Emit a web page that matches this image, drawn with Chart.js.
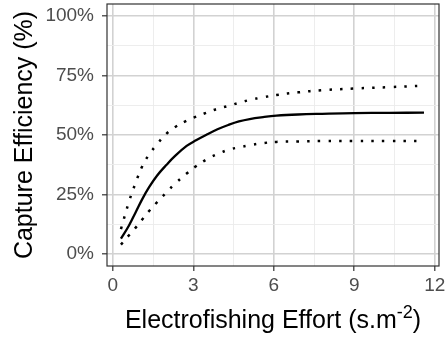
<!DOCTYPE html>
<html>
<head>
<meta charset="utf-8">
<script src="https://cdn.jsdelivr.net/npm/chart.js@4"></script>
<style>
  html, body { margin: 0; padding: 0; background: #fff; }
  #wrap { width: 446px; height: 339px; }
</style>
</head>
<body>
<div id="wrap"><canvas id="myChart" width="446" height="339"></canvas></div>
<script>
// values
const effort = [0.3, 0.6, 0.85, 1.1, 1.35, 1.65, 2.0, 2.3, 2.75, 3.1, 3.5, 3.9, 4.3, 4.7, 5.1, 5.6, 6.1, 6.9, 7.8, 9.0, 10.3, 11.6];
const fitted = [6.5, 12, 17.6, 23.2, 28.1, 33, 37.5, 41, 45.4, 47.8, 50.2, 52.4, 54.2, 55.7, 56.7, 57.5, 58.1, 58.6, 58.9, 59.2, 59.3, 59.4];
const upper = [10.5, 22, 30, 37, 41.8, 46.2, 50.6, 53.2, 56.0, 57.7, 59.4, 61.0, 62.2, 63.5, 64.7, 65.8, 66.8, 67.9, 68.8, 69.5, 70.1, 70.7];
const lower = [4.0, 7.9, 11.1, 14.6, 18.1, 21.8, 25.9, 29.4, 33.8, 36.9, 39.8, 42.0, 43.8, 44.8, 45.7, 46.6, 47.1, 47.3, 47.5, 47.5, 47.5, 47.5];

const xTicks = [0, 3, 6, 9, 12];
const xGrid = [0, 1.5, 3, 4.5, 6, 7.5, 9, 10.5, 12];
const yTicks = [0, 25, 50, 75, 100];
const yGrid = [0, 12.5, 25, 37.5, 50, 62.5, 75, 87.5, 100];

const FONT = "'Liberation Sans', Arial, sans-serif";

function pts(ys) {
  return effort.map((x, i) => ({ x: x, y: ys[i] }));
}

const major = '#d2d2d2';
const minor = '#ebebeb';

// axis titles + panel border
const decor = {
  id: 'decor',
  afterDatasetsDraw(chart) {
    const { ctx, chartArea: a } = chart;
    ctx.save();
    ctx.strokeStyle = '#333333';
    ctx.lineWidth = 1.2;
    ctx.strokeRect(a.left, a.top, a.right - a.left, a.bottom - a.top);
    ctx.restore();
  },
  afterDraw(chart) {
    const { ctx, chartArea: a } = chart;
    ctx.save();
    ctx.fillStyle = '#000';
    ctx.textBaseline = 'alphabetic';

    // y title
    ctx.font = '25px ' + FONT;
    ctx.translate(32, (a.top + a.bottom) / 2);
    ctx.rotate(-Math.PI / 2);
    ctx.textAlign = 'center';
    ctx.fillText('Capture Efficiency (%)', 0, 0);
    ctx.restore();

    // x title with superscript
    ctx.save();
    ctx.fillStyle = '#000';
    const main = 'Electrofishing Effort (s.m';
    const sup = '-2';
    const end = ')';
    ctx.font = '25px ' + FONT;
    const w1 = ctx.measureText(main).width;
    const w3 = ctx.measureText(end).width;
    ctx.font = '18px ' + FONT;
    const w2 = ctx.measureText(sup).width;
    const cx = (a.left + a.right) / 2;
    let x = cx - (w1 + w2 + w3) / 2;
    const base = 328;
    ctx.textAlign = 'left';
    ctx.font = '25px ' + FONT;
    ctx.fillText(main, x, base);
    x += w1;
    ctx.font = '18px ' + FONT;
    ctx.fillText(sup, x, base - 10);
    x += w2;
    ctx.font = '25px ' + FONT;
    ctx.fillText(end, x, base);
    ctx.restore();
  }
};

const data = {
  datasets: [
    {
      label: 'upper',
      data: pts(upper),
      borderColor: '#000',
      borderWidth: 2.5,
      borderDash: [2.5, 8.2],
      borderCapStyle: 'butt',
      pointRadius: 0,
      tension: 0.4,
      fill: false
    },
    {
      label: 'lower',
      data: pts(lower),
      borderColor: '#000',
      borderWidth: 2.5,
      borderDash: [2.5, 8.2],
      borderCapStyle: 'butt',
      pointRadius: 0,
      tension: 0.4,
      fill: false
    },
    {
      label: 'fitted',
      data: pts(fitted),
      borderColor: '#000',
      borderWidth: 2.3,
      pointRadius: 0,
      tension: 0.4,
      fill: false
    }
  ]
};

const config = {
  type: 'line',
  data: data,
  options: {
    responsive: false,
    animation: false,
    events: [],
    layout: { padding: { top: 4, right: 7, left: 0, bottom: 0 } },
    plugins: {
      legend: { display: false },
      tooltip: { enabled: false }
    },
    scales: {
      x: {
        type: 'linear',
        min: -0.22,
        max: 12.16,
        afterBuildTicks: s => { s.ticks = xGrid.map(v => ({ value: v })); },
        afterFit: s => { s.height = 73; s.paddingLeft = 0; s.paddingRight = 0; },
        border: { display: false },
        grid: {
          color: c => xTicks.includes(c.tick.value) ? major : minor,
          lineWidth: c => xTicks.includes(c.tick.value) ? 1.6 : 0.9,
          tickColor: c => xTicks.includes(c.tick.value) ? '#333333' : 'rgba(0,0,0,0)',
          tickWidth: 1.2,
          tickLength: 5
        },
        ticks: {
          autoSkip: false,
          maxRotation: 0,
          padding: 3,
          color: '#4d4d4d',
          font: { family: FONT, size: 19 },
          callback: v => xTicks.includes(v) ? String(v) : ''
        }
      },
      y: {
        type: 'linear',
        min: -5,
        max: 105,
        afterBuildTicks: s => { s.ticks = yGrid.map(v => ({ value: v })); },
        afterFit: s => { s.width = 107; s.paddingTop = 0; s.paddingBottom = 0; },
        border: { display: false },
        grid: {
          color: c => yTicks.includes(c.tick.value) ? major : minor,
          lineWidth: c => yTicks.includes(c.tick.value) ? 1.6 : 0.9,
          tickColor: c => yTicks.includes(c.tick.value) ? '#333333' : 'rgba(0,0,0,0)',
          tickWidth: 1.2,
          tickLength: 5
        },
        ticks: {
          autoSkip: false,
          padding: 8,
          color: '#4d4d4d',
          font: { family: FONT, size: 19 },
          callback: v => yTicks.includes(v) ? v + '%' : ''
        }
      }
    }
  },
  plugins: [decor]
};

const chart = new Chart(document.getElementById('myChart'), config);
</script>
</body>
</html>
